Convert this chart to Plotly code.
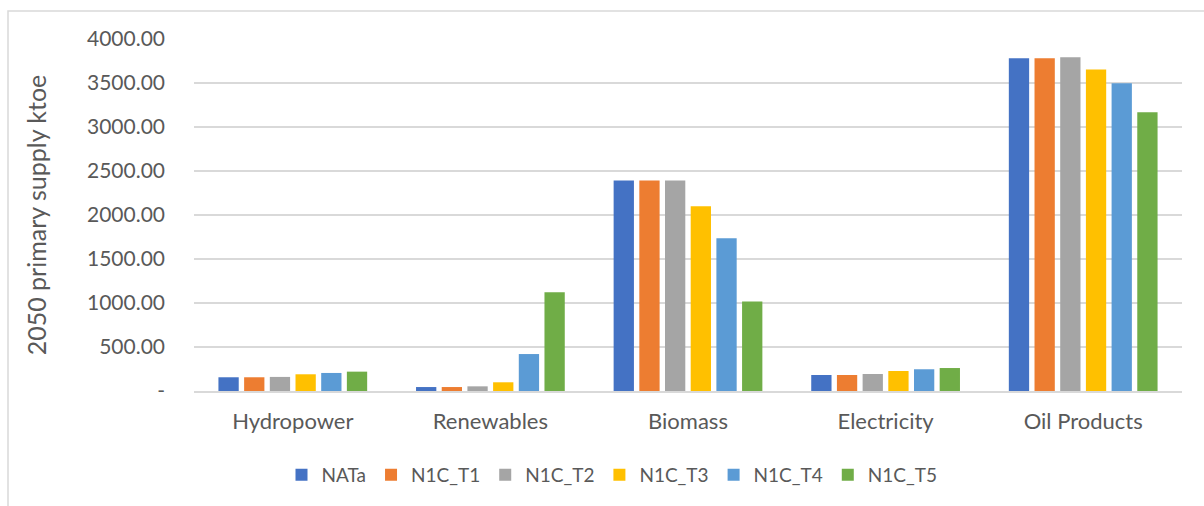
import plotly.graph_objects as go

categories = ["Hydropower", "Renewables", "Biomass", "Electricity", "Oil Products"]
series_names = ["NATa", "N1C_T1", "N1C_T2", "N1C_T3", "N1C_T4", "N1C_T5"]
NATa = [156, 45, 2391, 182, 3781]
N1C_T1 = [156, 45, 2391, 182, 3781]
N1C_T2 = [160, 53, 2391, 193, 3792]
N1C_T3 = [190, 99, 2099, 227, 3652]
N1C_T4 = [205, 420, 1735, 247, 3497]
N1C_T5 = [220, 1122, 1016, 261, 3167]
tick_vals = [0, 500, 1000, 1500, 2000, 2500, 3000, 3500, 4000]
tick_text = ["-", "500.00", "1000.00", "1500.00", "2000.00", "2500.00", "3000.00", "3500.00", "4000.00"]

colors = ["#4472C4", "#ED7D31", "#A5A5A5", "#FFC000", "#5B9BD5", "#70AD47"]
values = [NATa, N1C_T1, N1C_T2, N1C_T3, N1C_T4, N1C_T5]

font_family = "Lato, 'Open Sans', sans-serif"
fig = go.Figure()
for name, vals, c in zip(series_names, values, colors):
    fig.add_trace(go.Bar(x=categories, y=vals, name=name, marker=dict(color=c, line=dict(width=0))))

W, H = 1204, 506
L, T, PW, PH = 194, 39, 988, 352
fig.update_layout(
    width=W, height=H,
    barmode="group", bargap=0.22, bargroupgap=0.21,
    plot_bgcolor="white", paper_bgcolor="white",
    margin=dict(l=L, r=W - L - PW, t=T, b=H - T - PH, autoexpand=False),
    font=dict(family=font_family, color="#595959", size=19),
    xaxis=dict(showline=True, linecolor="#D9D9D9", linewidth=1.5, ticks="", tickfont=dict(size=22),
               ticklabelstandoff=10, automargin=False),
    yaxis=dict(range=[0, 4000], tickvals=tick_vals, ticktext=tick_text, showgrid=True,
               gridcolor="#D9D9D9", gridwidth=1.5, zeroline=False, ticks="", tickfont=dict(size=21),
               ticklabelstandoff=28, automargin=False,
               title=dict(text="2050 primary supply ktoe", font=dict(size=25), standoff=33)),
    legend=dict(orientation="h", xref="container", yref="container", x=612 / W, xanchor="center",
                y=1 - 475 / H, yanchor="middle",
                font=dict(size=19), itemwidth=30, traceorder="normal"),
    shapes=[dict(type="rect", xref="paper", yref="paper",
                 x0=-(L - 8) / PW, x1=1.2, y0=-0.5, y1=1 + (T - 11) / PH,
                 line=dict(color="#D9D9D9", width=1.5), fillcolor="rgba(0,0,0,0)", layer="below")],
)
fig.write_html("out.html", config={"displayModeBar": False},
               post_script="document.body.style.margin='0';document.body.style.overflow='hidden';")
